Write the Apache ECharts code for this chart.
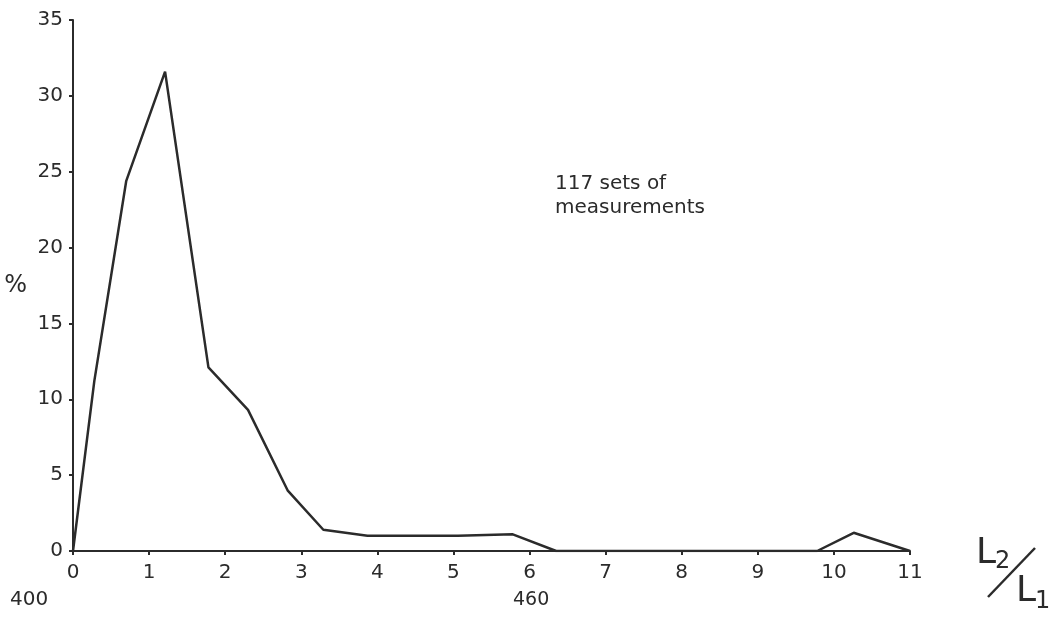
<!DOCTYPE html>
<html>
<head>
<meta charset="utf-8">
<script src="https://cdn.jsdelivr.net/npm/echarts@6/dist/echarts.min.js"></script>
<style>
  html, body { margin: 0; padding: 0; background: #fff; }
  #chart { width: 1049px; height: 617px; }
</style>
</head>
<body>
<div id="chart"></div>
<script>
// ratio L2/L1 (x) and percentage of measurements (y)
const ratios = [0, 0.28, 0.7, 1.21, 1.78, 2.3, 2.82, 3.29, 3.87, 5.06, 5.78, 6.35, 9.78, 10.26, 11]
const percents = [0, 11.2, 24.4, 31.6, 12.1, 9.3, 4.0, 1.4, 1.0, 1.0, 1.1, 0, 0, 1.2, 0]
const xTicks = [0, 1, 2, 3, 4, 5, 6, 7, 8, 9, 10, 11]
const yTicks = [0, 5, 10, 15, 20, 25, 30, 35]

const ink = '#2b2b2b'
const font = 'DejaVu Sans'

const chart = echarts.init(document.getElementById('chart'))

const option = {
  backgroundColor: '#fff',
  animation: false,
  grid: { left: 73, right: 139, top: 20, bottom: 66, containLabel: false, outerBoundsMode: 'none' },
  xAxis: {
    type: 'value',
    min: xTicks[0],
    max: xTicks[xTicks.length - 1],
    interval: 1,
    axisLine: { lineStyle: { color: ink, width: 2 } },
    axisTick: { length: 4, lineStyle: { color: ink, width: 2 } },
    axisLabel: { color: ink, fontFamily: font, fontSize: 20, margin: 12 },
    splitLine: { show: false }
  },
  yAxis: {
    type: 'value',
    min: yTicks[0],
    max: yTicks[yTicks.length - 1],
    interval: 5,
    name: '%',
    nameLocation: 'middle',
    nameRotate: 0,
    nameGap: 46,
    nameTextStyle: { color: ink, fontFamily: font, fontSize: 24 },
    axisLine: { show: true, lineStyle: { color: ink, width: 2 } },
    axisTick: { show: true, length: 4, lineStyle: { color: ink, width: 2 } },
    axisLabel: { color: ink, fontFamily: font, fontSize: 20, margin: 10 },
    splitLine: { show: false }
  },
  graphic: [
    {
      type: 'text',
      left: 555,
      top: 172,
      style: {
        text: '117 sets of\nmeasurements',
        fill: ink,
        font: '20px "DejaVu Sans"',
        lineHeight: 24
      }
    },
    // x axis name drawn as a stacked fraction L2 / L1
    { type: 'text', left: 976, top: 536, style: { text: 'L', fill: ink, font: '36px "DejaVu Sans"' } },
    { type: 'text', left: 995, top: 550, style: { text: '2', fill: ink, font: '24px "DejaVu Sans"' } },
    {
      type: 'line',
      shape: { x1: 988, y1: 597, x2: 1035, y2: 548 },
      style: { stroke: ink, lineWidth: 2.5 }
    },
    { type: 'text', left: 1016, top: 574, style: { text: 'L', fill: ink, font: '36px "DejaVu Sans"' } },
    { type: 'text', left: 1035, top: 590, style: { text: '1', fill: ink, font: '24px "DejaVu Sans"' } },
    {
      type: 'text',
      left: 10,
      top: 590,
      style: { text: '400', fill: ink, font: '20px "DejaVu Sans"' }
    },
    {
      type: 'text',
      left: 513,
      top: 591,
      style: { text: '460', fill: ink, font: '19px "DejaVu Sans"' }
    }
  ],
  series: [
    {
      type: 'line',
      data: ratios.map((r, i) => [r, percents[i]]),
      symbol: 'none',
      lineStyle: { color: ink, width: 2.5 }
    }
  ]
}

chart.setOption(option)
</script>
</body>
</html>
